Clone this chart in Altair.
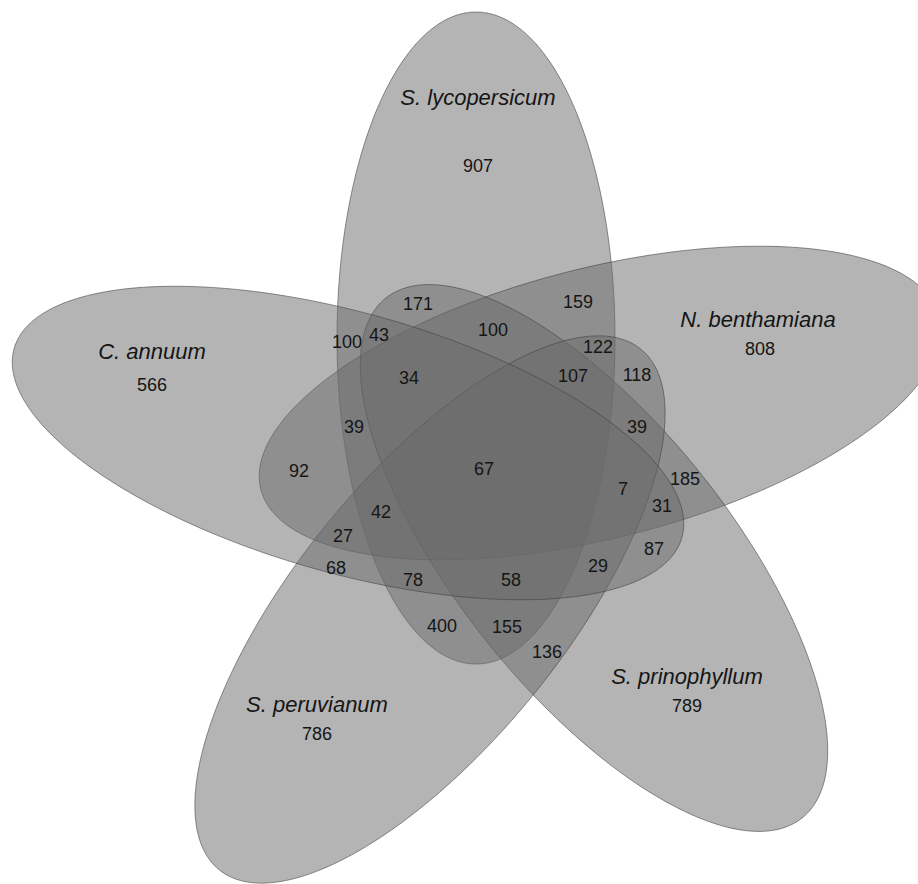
import altair as alt
import numpy as np
import pandas as pd

# Sets and their unique counts
set_names = ["S. lycopersicum", "N. benthamiana", "S. prinophyllum", "S. peruvianum", "C. annuum"]
set_totals = [907, 808, 789, 786, 566]

# Ellipse layout (pixel frame, y grows downward)
ell_cx = [476, 600, 594, 430, 348]
ell_cy = [338, 403, 558, 609.5, 443]
ell_a = [326, 350, 333, 335, 347]
ell_b = [139, 135, 136, 134, 130]
ell_angle = [-90, -14.3, 51.3, -51, 15.8]

# Set label placement
name_x = [478, 758, 687, 317, 152]
name_y = [98, 320, 677, 705, 352]
total_x = [478, 760, 687, 317, 152]
total_y = [167, 350, 707, 735, 386]

# Intersection counts and where they sit
region_counts = [171, 159, 100, 43, 100, 122, 34, 107, 118, 39, 39, 92, 67,
                 185, 7, 31, 42, 27, 87, 68, 29, 78, 58, 400, 155, 136]
region_x = [418, 578, 347, 379, 493, 598, 409, 573, 637, 354, 637, 299, 484,
            685, 623, 662, 381, 343, 654, 336, 598, 413, 511, 442, 507, 547]
region_y = [305, 303, 343, 336, 331, 348, 379, 377, 376, 428, 428, 472, 470,
            480, 490, 507, 513, 537, 550, 569, 567, 581, 581, 627, 628, 653]

W, H = 918, 884

# Outline points for each ellipse
rows = []
t = np.linspace(0, 2 * np.pi, 240, endpoint=False)
for name, cx, cy, a, b, ang in zip(set_names, ell_cx, ell_cy, ell_a, ell_b, ell_angle):
    th = np.deg2rad(ang)
    xs = cx + a * np.cos(th) * np.cos(t) - b * np.sin(th) * np.sin(t)
    ys = cy + a * np.sin(th) * np.cos(t) + b * np.cos(th) * np.sin(t)
    for i, (px, py) in enumerate(zip(xs, ys)):
        rows.append({"set": name, "i": i, "x": float(px), "y": float(py)})
outline = pd.DataFrame(rows)

xs_scale = alt.Scale(domain=[0, W], nice=False, zero=False)
ys_scale = alt.Scale(domain=[0, H], nice=False, zero=False, reverse=True)
X = lambda f: alt.X(f, type="quantitative", scale=xs_scale, axis=None)
Y = lambda f: alt.Y(f, type="quantitative", scale=ys_scale, axis=None)

ellipses = alt.Chart(outline).mark_line(
    interpolate="linear-closed",
    fill="#6a6a6a",
    fillOpacity=0.5,
    stroke="#3c3c3c",
    strokeOpacity=0.55,
    strokeWidth=1,
    clip=True,
).encode(
    x=X("x"),
    y=Y("y"),
    detail="set:N",
    order="i:Q",
)

names_df = pd.DataFrame({"label": set_names, "x": name_x, "y": name_y})
totals_df = pd.DataFrame({"label": [str(v) for v in set_totals], "x": total_x, "y": total_y})
regions_df = pd.DataFrame({"label": [str(v) for v in region_counts], "x": region_x, "y": region_y})

font = "Liberation Sans"
names_layer = alt.Chart(names_df).mark_text(
    font=font, fontSize=22, fontStyle="italic", color="#151515",
    align="center", baseline="middle",
).encode(x=X("x"), y=Y("y"), text="label:N")

totals_layer = alt.Chart(totals_df).mark_text(
    font=font, fontSize=18, color="#151515", align="center", baseline="middle",
).encode(x=X("x"), y=Y("y"), text="label:N")

regions_layer = alt.Chart(regions_df).mark_text(
    font=font, fontSize=18, color="#151515", align="center", baseline="middle",
).encode(x=X("x"), y=Y("y"), text="label:N")

chart = alt.layer(ellipses, names_layer, totals_layer, regions_layer).properties(
    width=W, height=H, padding=0,
    autosize=alt.AutoSizeParams(type="none"),
    background="white",
).configure_view(strokeWidth=0)

chart.save("out.html", embed_options={"renderer": "svg", "actions": False})
